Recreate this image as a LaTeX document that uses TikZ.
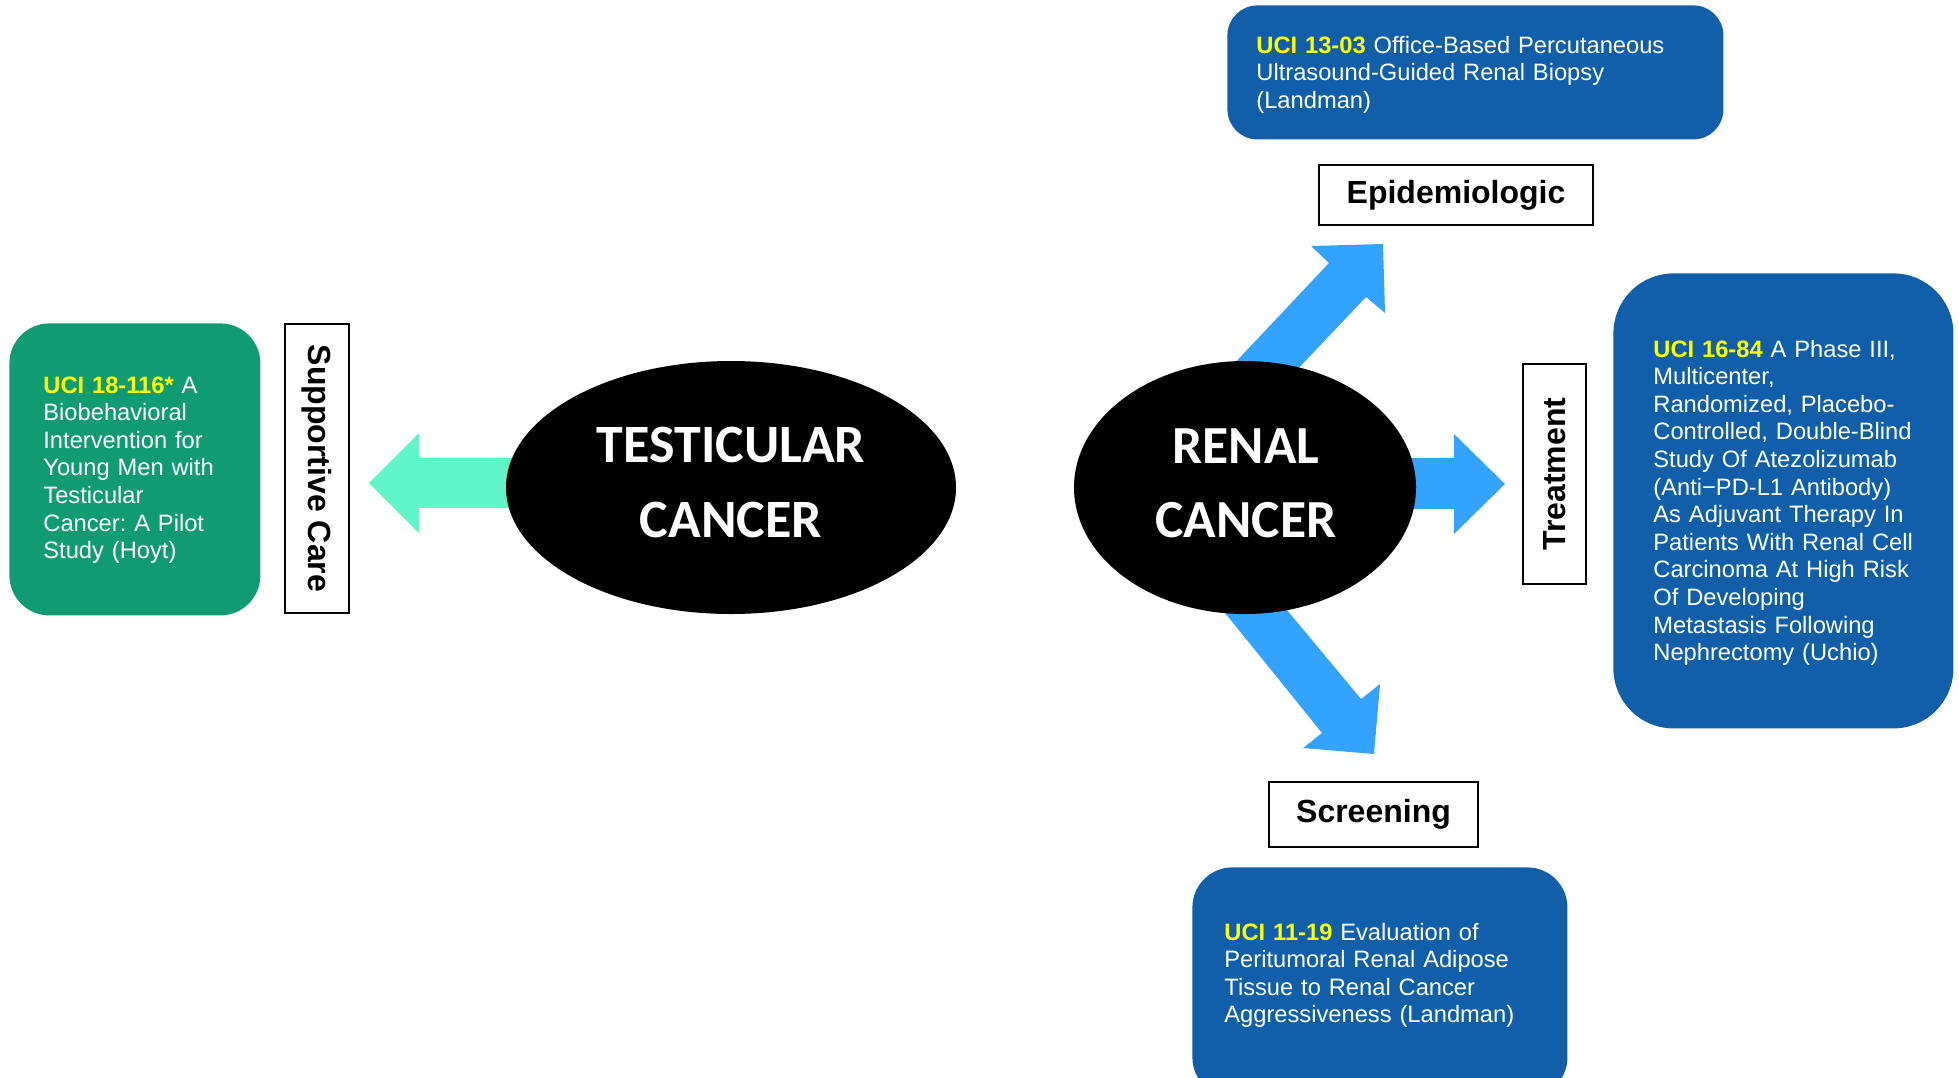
\documentclass[tikz,border=0pt]{standalone}
\usepackage{fontspec}
\setmainfont{Liberation Sans}
\newfontfamily\calib{Carlito}
\usetikzlibrary{shapes.geometric}
\definecolor{boxgreen}{RGB}{17,155,114}
\definecolor{boxblue}{RGB}{16,95,168}
\definecolor{arrowblue}{RGB}{51,163,255}
\definecolor{arrowmint}{RGB}{96,244,201}
\definecolor{uciyellow}{RGB}{255,255,0}
\newcommand\ucinum[1]{\textcolor{uciyellow}{\bfseries #1}}
\frenchspacing
\begin{document}
\begin{tikzpicture}[x=0.5pt,y=-0.5pt,
  studybox/.style={fill=#1, draw=none, inner sep=0pt, anchor=north west},
  bodytext/.style={text=white, anchor=base west, align=left, inner sep=0pt,
    font=\fontsize{11.85}{13.8}\selectfont},
  labelbox/.style={draw=black, line width=1pt, fill=white, inner sep=0pt,
    font=\bfseries\fontsize{16}{19}\selectfont},
  cancer/.style={ellipse, fill=black, inner sep=0pt},
  cancertext/.style={text=white, align=center, anchor=base, inner sep=0pt, text width=180pt},
  blockarrow/.style={fill=#1, draw=none}]
\useasboundingbox (0,0) rectangle (1959,1077);
\clip (0,0) rectangle (1959,1077);

% study boxes
\node[studybox=boxgreen, rounded corners=20pt, minimum width=125.5pt, minimum height=146pt] (gbox) at (9,323) {};
\node[studybox=boxblue, rounded corners=15pt, minimum width=248pt, minimum height=67pt] (tbox) at (1227,5) {};
\node[studybox=boxblue, rounded corners=30pt, minimum width=170pt, minimum height=227.5pt] (rbox) at (1613,273) {};
\node[studybox=boxblue, rounded corners=20pt, minimum width=187.5pt, minimum height=115pt] (bbox) at (1192,867) {};

\node[bodytext, text width=115pt] (gtext) at (43,393) {\ucinum{UCI 18-116*} A\\Biobehavioral\\Intervention for\\Young Men with\\Testicular\\Cancer: A Pilot\\Study (Hoyt)};
\node[bodytext, text width=240pt] (ttext) at (1256,53) {\ucinum{UCI 13-03} Office-Based Percutaneous\\Ultrasound-Guided Renal Biopsy\\(Landman)};
\node[bodytext, text width=150pt] (rtext) at (1653,357) {\ucinum{UCI 16-84} A Phase III,\\Multicenter,\\Randomized, Placebo-\\Controlled, Double-Blind\\Study Of Atezolizumab\\(Anti−PD-L1 Antibody)\\As Adjuvant Therapy In\\Patients With Renal Cell\\Carcinoma At High Risk\\Of Developing\\Metastasis Following\\Nephrectomy (Uchio)};
\node[bodytext, text width=175pt] (btext) at (1224,940) {\ucinum{UCI 11-19} Evaluation of\\Peritumoral Renal Adipose\\Tissue to Renal Cancer\\Aggressiveness (Landman)};

% block arrows
\fill[blockarrow=arrowmint] (560,458) -- (419,458) -- (419,433) -- (369,483) -- (419,533) -- (419,508) -- (560,508) -- cycle;
\fill[blockarrow=arrowblue] (1213,386) -- (1329,263) -- (1311,246) -- (1383,244) -- (1385,313) -- (1366,297) -- (1276,392) -- cycle;
\fill[blockarrow=arrowblue] (1380,458) -- (1454,458) -- (1454,434) -- (1505,484) -- (1454,534) -- (1454,509) -- (1380,509) -- cycle;
\fill[blockarrow=arrowblue] (1200,582) -- (1322,733) -- (1303,748) -- (1374,754) -- (1380,684) -- (1361,699) -- (1262,580) -- cycle;

% cancer ellipses
\node[cancer, minimum width=225pt, minimum height=126.5pt] (testis) at (731,487.5) {};
\node[cancertext, font=\calib\bfseries\fontsize{27}{37.5}\selectfont] (testistext) at (731,462) {TESTICULAR\\CANCER};
\node[cancer, minimum width=171pt, minimum height=126.5pt] (renal) at (1245,487.5) {};
\node[cancertext, font=\calib\bfseries\fontsize{26.8}{37}\selectfont] (renaltext) at (1246,463) {RENAL\\CANCER};

% label boxes
\node[labelbox, minimum width=144.5pt, minimum height=32pt, rotate=-90] (supp) at (317,468.5) {Supportive Care};
\node[labelbox, minimum width=137pt, minimum height=30pt] (epi) at (1456,195) {Epidemiologic};
\node[labelbox, minimum width=110pt, minimum height=31.5pt, rotate=90] (treat) at (1554.5,474) {Treatment};
\node[labelbox, minimum width=104.5pt, minimum height=32.5pt] (screen) at (1373.5,814.5) {Screening};
\end{tikzpicture}
\end{document}
